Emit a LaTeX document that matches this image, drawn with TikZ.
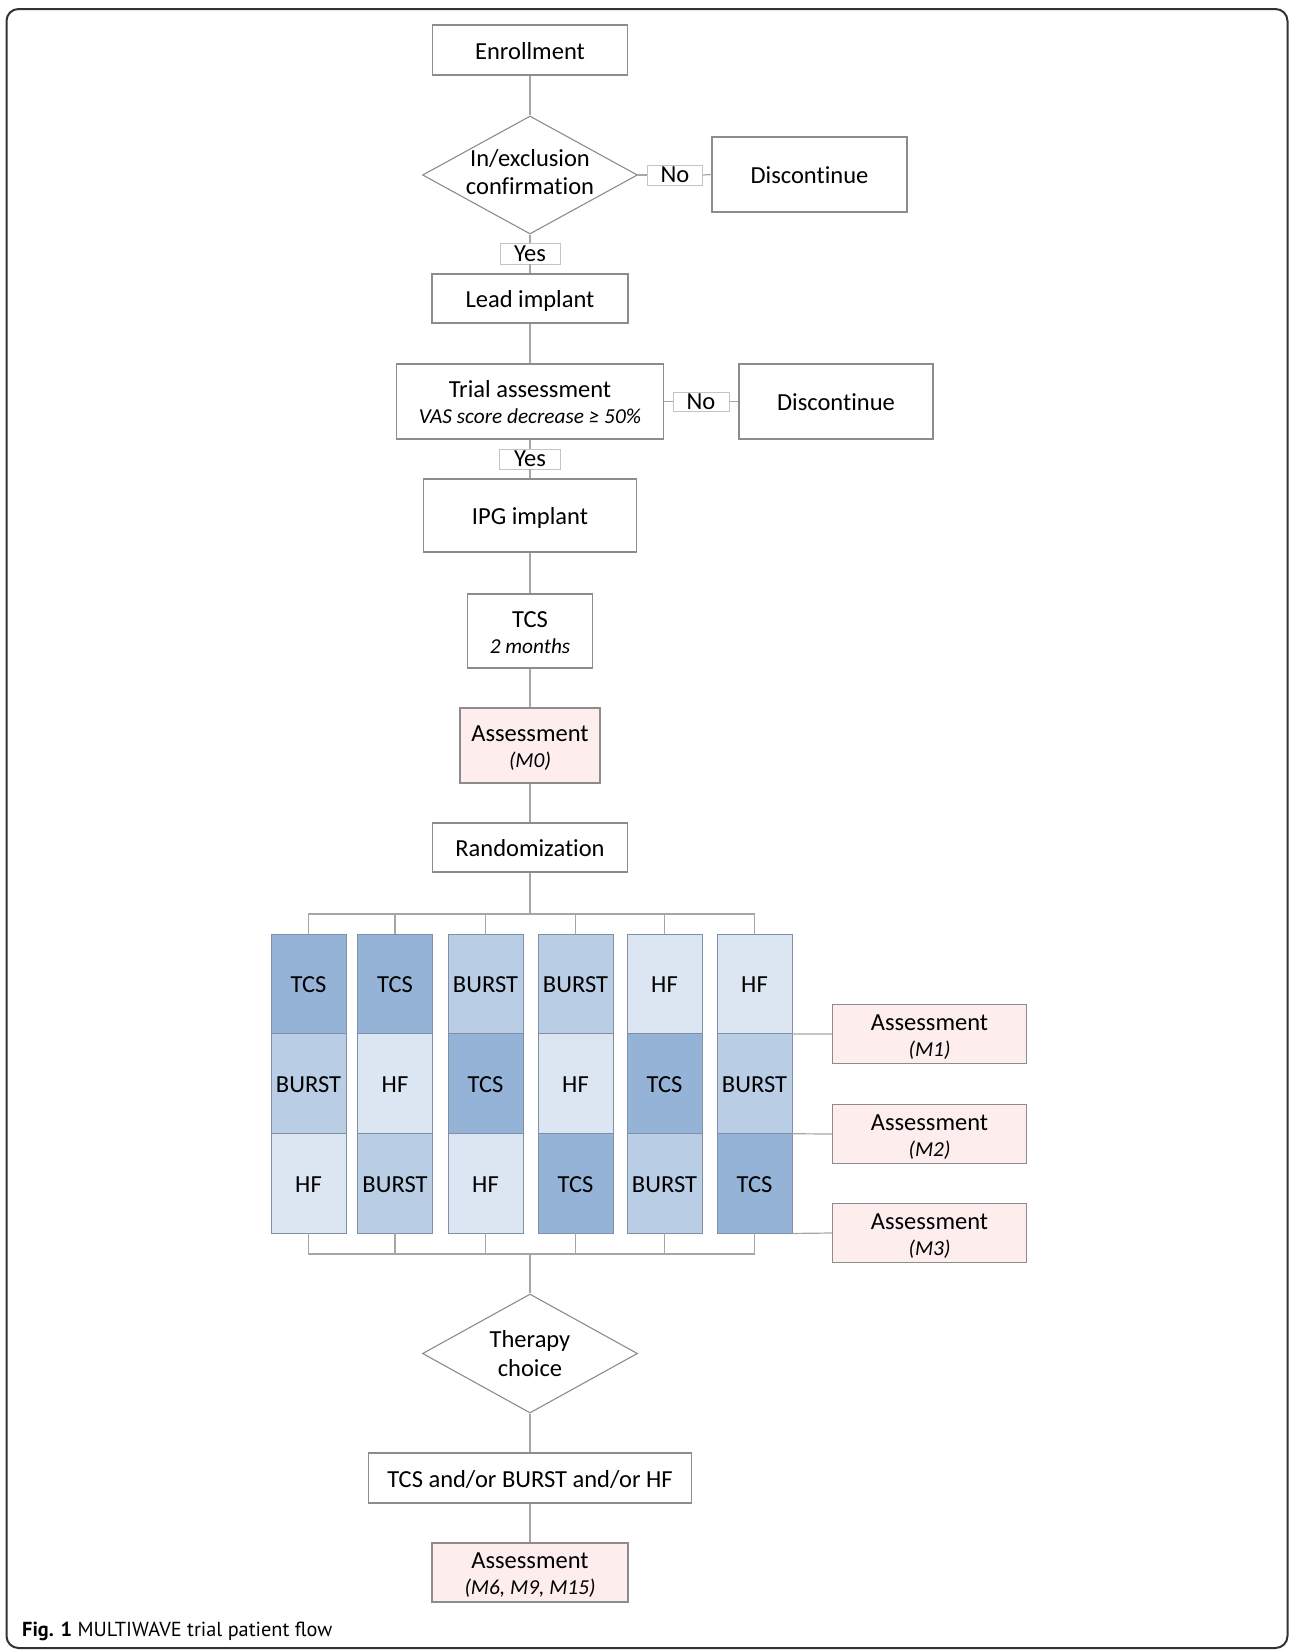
\documentclass[tikz,border=0pt]{standalone}
\usepackage{fontspec}
\setmainfont{Carlito}[Ligatures=NoCommon]
\newfontfamily\capfont{PT Sans}
\usetikzlibrary{shapes.geometric}
\definecolor{boxborder}{HTML}{8C8C8C}
\definecolor{lblborder}{HTML}{C4C4C4}
\definecolor{linecol}{HTML}{A6A6A6}
\definecolor{pinkfill}{HTML}{FDEDED}
\definecolor{cTCS}{HTML}{95B3D7}
\definecolor{cBURST}{HTML}{B9CDE5}
\definecolor{cHF}{HTML}{DCE6F2}
\definecolor{cellborder}{HTML}{7F8FA6}
\newcommand\subtxt[1]{{\fontsize{21.3}{26}\selectfont\itshape #1}}
\newcommand\twol[2]{\rule{0pt}{22.5pt}#1\\\subtxt{#2}\rule[-4.5pt]{0pt}{4.5pt}}
\begin{document}
\begin{tikzpicture}[x=1pt,y=-1pt,
  box/.style={draw=boxborder, line width=1.1pt, fill=white, inner sep=0pt, align=center,
    font=\fontsize{24.5}{26}\selectfont},
  one/.style={text height=22.5pt, text depth=4.5pt},
  pinkbox/.style={box, fill=pinkfill},
  dia/.style={diamond, draw=boxborder, line width=1.1pt, fill=white, inner sep=0pt,
    minimum width=215pt, minimum height=118pt},
  txt/.style={inner sep=0pt, align=center, font=\fontsize{24.5}{28.5}\selectfont},
  lbl/.style={draw=lblborder, line width=0.9pt, fill=white, inner sep=0pt,
    font=\fontsize{24.5}{26}\selectfont},
  cell/.style={draw=cellborder, line width=0.8pt, inner sep=0pt, minimum width=75pt,
    minimum height=99.7pt, text height=22.5pt, text depth=4.5pt, font=\fontsize{24.5}{26}\selectfont},
  conn/.style={draw=linecol, line width=1.2pt},
  frame/.style={draw=black!80, line width=2pt, rounded corners=12pt}
]
\useasboundingbox (0,0) rectangle (1290,1650);
\draw[frame] (6.5,9) rectangle (1287.5,1648);

% main column
\node[box, one, minimum width=195pt, minimum height=50pt] (enroll) at (530,50) {Enrollment};
\node[dia] (dia1) at (530,175) {};
\node[txt, yshift=3pt] (dia1t) at (dia1.center) {In/exclusion\\confirmation};
\node[lbl, minimum width=55pt, minimum height=20pt] (no1) at (675,175) {No};
\node[box, one, minimum width=195pt, minimum height=75pt] (disc1) at (809.5,174.5) {Discontinue};
\node[lbl, minimum width=60pt, minimum height=21pt] (yes1) at (530,253.5) {Yes};
\node[box, one, minimum width=196pt, minimum height=49pt] (lead) at (530,298.5) {Lead implant};
\node[box, minimum width=267pt, minimum height=75pt] (trial) at (530,401.5)
  {\twol{Trial assessment}{VAS score decrease ≥ 50\%}};
\node[lbl, minimum width=56pt, minimum height=19pt] (no2) at (701,401.5) {No};
\node[box, one, minimum width=194pt, minimum height=75pt] (disc2) at (836,401.5) {Discontinue};
\node[lbl, minimum width=61pt, minimum height=20pt] (yes2) at (530,459) {Yes};
\node[box, one, minimum width=213pt, minimum height=73pt] (ipg) at (530,515.5) {IPG implant};
\node[box, minimum width=125pt, minimum height=74pt] (tcs) at (530,631) {\twol{TCS}{2 months}};
\node[pinkbox, minimum width=140pt, minimum height=75pt] (m0) at (530,745.5) {\twol{Assessment}{(M0)}};
\node[box, one, minimum width=195pt, minimum height=49pt] (rand) at (530,847.5) {Randomization};

% crossover columns
\foreach \i/\x/\a/\b/\c in {1/308.5/TCS/BURST/HF, 2/395/TCS/HF/BURST, 3/485.5/BURST/TCS/HF,
    4/575.5/BURST/HF/TCS, 5/664.5/HF/TCS/BURST, 6/754.5/HF/BURST/TCS} {
  \node[cell, fill=c\a] (c\i1) at (\x,983.8) {\a};
  \node[cell, fill=c\b] (c\i2) at (\x,1083.5) {\b};
  \node[cell, fill=c\c] (c\i3) at (\x,1183.2) {\c};
}

\node[pinkbox, minimum width=194pt, minimum height=59pt] (m1) at (929.5,1034) {\twol{Assessment}{(M1)}};
\node[pinkbox, minimum width=194pt, minimum height=59pt] (m2) at (929.5,1134) {\twol{Assessment}{(M2)}};
\node[pinkbox, minimum width=194pt, minimum height=59pt] (m3) at (929.5,1233) {\twol{Assessment}{(M3)}};

\node[dia, minimum height=119pt] (dia2) at (530,1353.5) {};
\node[txt] (dia2t) at (dia2.center) {Therapy\\choice};
\node[box, one, minimum width=323pt, minimum height=50pt] (choice) at (530,1478) {TCS and/or BURST and/or HF};
\node[pinkbox, minimum width=196pt, minimum height=59pt] (m6) at (530,1572.5) {\twol{Assessment}{(M6, M9, M15)}};

\node[anchor=base west, inner sep=0pt, font=\capfont\fontsize{20.3}{24}\selectfont] (cap) at (22,1636)
  {\textbf{Fig. 1} MULTIWAVE trial patient flow};

% connectors
\coordinate (bt) at (530,914);
\coordinate (bb) at (530,1254);
\draw[conn] (enroll.south) -- (dia1.north);
\draw[conn] (dia1.east) -- (no1.west);
\draw[conn] (no1.east) -- (disc1.west);
\draw[conn] (dia1.south) -- (yes1.north);
\draw[conn] (yes1.south) -- (lead.north);
\draw[conn] (lead.south) -- (trial.north);
\draw[conn] (trial.east) -- (no2.west);
\draw[conn] (no2.east) -- (disc2.west);
\draw[conn] (trial.south) -- (yes2.north);
\draw[conn] (yes2.south) -- (ipg.north);
\draw[conn] (ipg.south) -- (tcs.north);
\draw[conn] (tcs.south) -- (m0.north);
\draw[conn] (m0.south) -- (rand.north);
\draw[conn] (rand.south) -- (bt);
\draw[conn] (c11.north) |- (bt);
\draw[conn] (c61.north) |- (bt);
\draw[conn] (c13.south) |- (bb);
\draw[conn] (c63.south) |- (bb);
\foreach \i in {2,3,4,5} {
  \draw[conn] (c\i1.north) -- (c\i1.north |- bt);
  \draw[conn] (c\i3.south) -- (c\i3.south |- bb);
}
\draw[conn] (c61.south east) -- (m1.west);
\draw[conn] (c62.south east) -- (m2.west);
\draw[conn] (c63.south east) -- (m3.west);
\draw[conn] (bb) -- (dia2.north);
\draw[conn] (dia2.south) -- (choice.north);
\draw[conn] (choice.south) -- (m6.north);
\end{tikzpicture}
\end{document}
